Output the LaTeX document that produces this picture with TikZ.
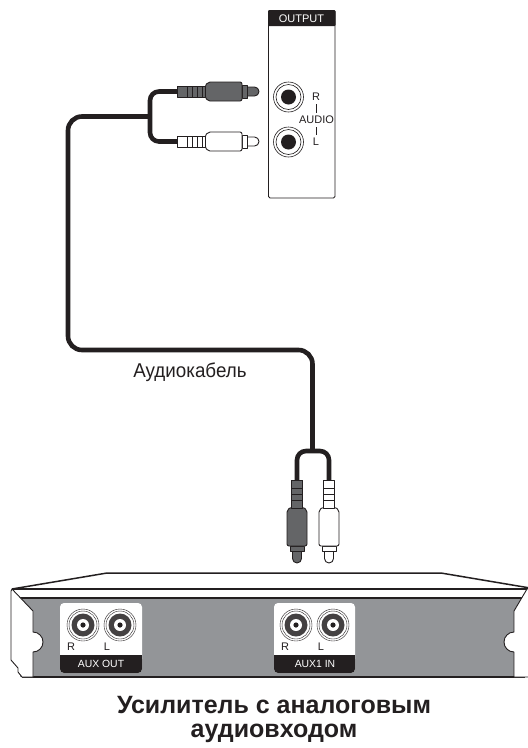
\documentclass[tikz,border=0pt]{standalone}
\usepackage{fontspec}
\setmainfont{Liberation Sans}
\definecolor{plugdark}{RGB}{100,101,103}
\definecolor{panelgray}{RGB}{147,149,152}
\definecolor{ink}{RGB}{35,31,32}
\tikzset{
  outl/.style={draw=ink,line width=0.9pt,line join=round},
  cable/.style={draw=ink,line width=4.6pt,rounded corners=9pt,line cap=butt},
  thinl/.style={draw=ink,line width=0.8pt},
  thickl/.style={draw=ink,line width=1.5pt},
  smalltxt/.style={font=\fontsize{11}{12}\selectfont,text=ink,inner sep=0pt},
  whitetxt/.style={font=\fontsize{10.4}{12}\selectfont,text=white,inner sep=0pt},
  pics/rcah/.style={code={
    \path[outl,fill=#1] (70,-4.5) -- (77.5,-4.5) arc(-90:90:4.5) -- (70,4.5) -- cycle;
    \path[outl,fill=#1] (65,-6.5) rectangle (70,6.5);
    \path[outl,fill=#1,rounded corners=2pt] (28,-5.5) -- (31,-9.5) -- (65,-9.5) -- (65,9.5) -- (31,9.5) -- (28,5.5) -- cycle;
    \path[outl,fill=#1] (0,-5.5) rectangle (28,5.5);
    \foreach \x in {10,15,20,25} \draw[thinl] (\x,-5.5) -- (\x,5.5);
  }},
  pics/rcav/.style={code={
    \path[outl,fill=#1] (-4.5,71) -- (-4.5,78.5) arc(180:0:4.5) -- (4.5,71) -- cycle;
    \path[outl,fill=#1] (-7,66) rectangle (7,71);
    \path[outl,fill=#1,rounded corners=2pt] (-5.5,27) -- (-10,30) -- (-10,66) -- (10,66) -- (10,30) -- (5.5,27) -- cycle;
    \path[outl,fill=#1] (-5.5,0) rectangle (5.5,28);
    \foreach \y in {8,14,20} \draw[thinl] (-5.5,\y) -- (5.5,\y);
  }},
  pics/jackout/.style={code={
    \draw[ink,line width=0.6pt,fill=white] (0,0) circle (15);
    \draw[ink,line width=0.6pt] (0,0) circle (12.5);
    \fill[ink] (0,0) circle (7.5);
  }},
  pics/jackaux/.style={code={
    \draw[ink,line width=0.4pt,fill=white] (0,0) circle (16);
    \draw[ink,line width=0.4pt] (0,0) circle (14);
    \fill[ink!85!white] (0,0) circle (11.5);
    \fill[white] (0,0) circle (6);
    \fill[ink] (0,0) circle (2.6);
  }},
}
\begin{document}
\begin{tikzpicture}[x=1pt,y=-1pt]
\useasboundingbox (0,0) rectangle (528,748);
\clip (0,0) rectangle (528,748);
% output panel
\path[outl,fill=white,rounded corners=1.5pt] (268.5,10.5) rectangle (335,198);
\fill[ink,rounded corners=1pt] (268,10) rectangle (335.5,26);
\node[whitetxt,font=\fontsize{11}{12}\selectfont] (outlbl) at (301.5,18.5) {OUTPUT};
\pic at (288.5,97) {jackout};
\pic at (288.5,142) {jackout};
\node[smalltxt] (rlbl) at (316,97) {R};
\node[smalltxt] (alabel) at (316.5,120) {AUDIO};
\node[smalltxt] (llbl) at (316,142) {L};
\draw[thinl] (316,104) -- (316,113);
\draw[thinl] (316,127) -- (316,135);
% cables
\coordinate (ptop) at (177,91.5);
\coordinate (pbot) at (177,141.5);
\coordinate (junctop) at (150,116.5);
\coordinate (botstem) at (312.5,451);
\coordinate (pleft) at (297,480);
\coordinate (pright) at (329,480);
\draw[cable] (ptop) -- (150,91.5) -- (150,141.5) -- (pbot);
\draw[cable,rounded corners=14pt] (junctop) -- (68,116.5) -- (68,350) -- (312.5,350) -- (botstem);
\draw[cable,rounded corners=9pt] (pleft) -- (297,451) -- (329,451) -- (pright);
\pic at (ptop) {rcah=plugdark};
\pic at (pbot) {rcah=white};
\pic at (pleft) {rcav=plugdark};
\pic at (pright) {rcav=white};
\node[font=\fontsize{20}{22}\selectfont,text=ink,inner sep=0pt,xscale=0.94] (cablelbl) at (190,372) {Аудиокабель};
% device
\path[thickl,fill=white] (12,589) -- (107,573) -- (441,573) -- (536,589) -- cycle;
\draw[thinl] (12,588.5) -- (536,588.5);
\fill[panelgray] (20,598) rectangle (528,677);
\draw[thickl] (20,598) -- (527,598);
\draw[thickl] (22,677) -- (525,677);
% ears
\path[outl,fill=white] (12,589) -- (33,611) -- (33,632) arc(-90:90:10) -- (33,677) -- (22,677) -- (18,672) -- (18,668) -- (11,660) -- (11,591) -- cycle;
\path[outl,fill=white] (527,589) -- (514,611) -- (514,632) arc(270:90:10) -- (514,677) -- (530,677) -- (530,589) -- cycle;
% aux panels
\fill[white,rounded corners=4pt] (60,603) rectangle (142,673);
\fill[ink,rounded corners=4pt] (60,655) rectangle (142,673);
\fill[ink] (60,655) rectangle (142,662);
\pic at (83,625) {jackaux};
\pic at (120,625) {jackaux};
\node[smalltxt] (r1) at (71,647) {R};
\node[smalltxt] (l1) at (107,647) {L};
\node[whitetxt] (auxout) at (101,663.5) {AUX OUT};
\fill[white,rounded corners=4pt] (274,603) rectangle (355,673);
\fill[ink,rounded corners=4pt] (274,655) rectangle (355,673);
\fill[ink] (274,655) rectangle (355,662);
\pic at (296,625) {jackaux};
\pic at (333,625) {jackaux};
\node[smalltxt] (r2) at (285,647) {R};
\node[smalltxt] (l2) at (321,647) {L};
\node[whitetxt] (auxin) at (315,663.5) {AUX1 IN};
% caption
\node[font=\bfseries\fontsize{25}{28}\selectfont,text=ink,inner sep=0pt] (cap1) at (274,705) {Усилитель с аналоговым};
\node[font=\bfseries\fontsize{25}{28}\selectfont,text=ink,inner sep=0pt] (cap2) at (274,733) {аудиовходом};
\end{tikzpicture}
\end{document}
